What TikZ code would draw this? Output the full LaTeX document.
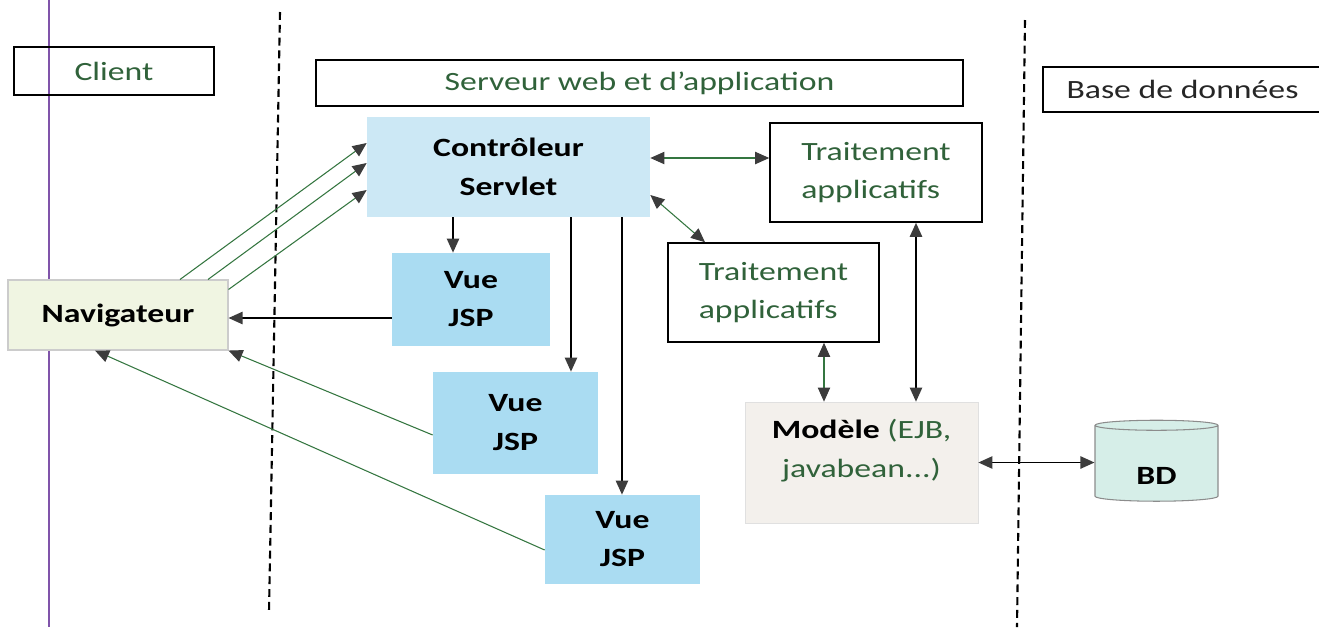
\documentclass[tikz,border=0pt]{standalone}
\usepackage{fontspec}
\setmainfont{Carlito}[FakeStretch=1.28]
\usetikzlibrary{arrows.meta,shapes.geometric}
\definecolor{txtgreen}{RGB}{48,98,58}
\definecolor{linegreen}{RGB}{52,118,64}
\definecolor{tipgrey}{RGB}{60,60,60}
\definecolor{vueblue}{RGB}{170,220,242}
\definecolor{vuelight}{RGB}{214,237,248}
\definecolor{ctrlblue}{RGB}{204,232,245}
\definecolor{navfill}{RGB}{240,245,226}
\definecolor{modfill}{RGB}{243,240,236}
\definecolor{bdfill}{RGB}{214,238,232}
\definecolor{purpleline}{RGB}{128,84,170}
\begin{document}
\begin{tikzpicture}[x=0.02cm, y=-0.02cm,
	every node/.style={font=\fontsize{15}{22}\selectfont, align=center, inner sep=0pt},
	bx/.style={draw=black, line width=0.9pt, text=txtgreen},
	bold/.style={font=\fontsize{15}{22}\selectfont\bfseries},
	vue/.style={bold, left color=vueblue, middle color=vuelight, right color=vueblue},
	sep/.style={line width=1.2pt, dash pattern=on 4.5pt off 2.8pt},
	gr/.style={draw=linegreen, line width=0.6pt, -{Triangle[length=8pt,width=7pt,color=tipgrey]}},
	grb/.style={gr, {Triangle[length=8pt,width=7pt,color=tipgrey]}-{Triangle[length=8pt,width=7pt,color=tipgrey]}},
	bk/.style={draw=black, line width=0.9pt, -{Triangle[length=8pt,width=7pt,color=tipgrey]}},
	bkb/.style={bk, {Triangle[length=8pt,width=7pt,color=tipgrey]}-{Triangle[length=8pt,width=7pt,color=tipgrey]}}]
	\path[use as bounding box, fill=white] (0,0) rectangle (1319,627);
	\clip (0,0) rectangle (1319,627);

	\coordinate (p1) at (49,0);
	\coordinate (p2) at (49,627);
	\coordinate (d1t) at (280,12);
	\coordinate (d1b) at (269,612);
	\coordinate (d2t) at (1025,20);
	\coordinate (d2b) at (1017,627);
	\draw[purpleline, line width=0.7pt] (p1) -- (p2);
	\draw[sep] (d1t) -- (d1b);
	\draw[sep] (d2t) -- (d2b);

	\node[bx, minimum width=4cm, minimum height=0.96cm] (client) at (114,71) {Client};
	\node[bx, minimum width=12.94cm, minimum height=0.92cm] (serveur) at (639.5,83) {Serveur web et d'application};
	\node[bx, text=black!85, minimum width=5.58cm, minimum height=0.9cm] (base) at (1182.5,89.5) {Base de données};

	\node[bold, fill=ctrlblue, minimum width=5.66cm, minimum height=2cm] (ctrl) at (508.5,167) {Contrôleur\\Servlet};
	\node[bx, align=left, minimum width=4.24cm, minimum height=1.98cm] (trait1) at (876,172.5) {Traitement\\applicatifs};
	\node[bx, align=left, minimum width=4.22cm, minimum height=1.98cm] (trait2) at (773.5,292.5) {Traitement\\applicatifs};
	\node[bold, fill=navfill, draw=black!20, line width=0.6pt, minimum width=4.4cm, minimum height=1.4cm] (nav) at (118,315) {Navigateur};
	\node[vue, minimum width=3.16cm, minimum height=1.84cm] (vue1) at (471,299) {Vue\\JSP};
	\node[vue, minimum width=3.3cm, minimum height=2.02cm] (vue2) at (515.5,422.5) {Vue\\JSP};
	\node[vue, minimum width=3.1cm, minimum height=1.76cm] (vue3) at (622.5,539) {Vue\\JSP};
	\node[fill=modfill, draw=black!12, text depth=16pt, minimum width=4.66cm, minimum height=2.42cm] (model) at (861.5,462.5) {\textbf{Modèle} {\color{txtgreen}(EJB,}\\{\color{txtgreen}javabean...)}};
	\node[bold, cylinder, shape border rotate=90, aspect=0.25, fill=bdfill, draw=black!45, line width=0.6pt, text height=24pt, text depth=0pt, minimum width=2.46cm, minimum height=1.62cm] (bd) at (1156.5,463.5) {BD};

	\draw[gr] ([xshift=1.24cm]nav.north) -- ([yshift=0.48cm]ctrl.west);
	\draw[gr] ([xshift=1.8cm]nav.north) -- ([yshift=0.08cm]ctrl.west);
	\draw[gr] ([yshift=-0.2cm]nav.north east) -- ([yshift=-0.46cm]ctrl.west);
	\draw[bk] ([yshift=-0.38cm]vue1.west) -- ([yshift=-0.38cm]vue1.west -| nav.east);
	\draw[gr] ([yshift=-0.25cm]vue2.west) -- (nav.south east);
	\draw[gr] ([yshift=-0.22cm]vue3.west) -- ([xshift=-0.46cm]nav.south);

	\draw[bk] ([xshift=-1.11cm]ctrl.south) -- ([xshift=-1.11cm]ctrl.south |- vue1.north);
	\draw[bk] ([xshift=1.25cm]ctrl.south) -- ([xshift=1.25cm]ctrl.south |- vue2.north);
	\draw[bk] ([xshift=2.27cm]ctrl.south) -- ([xshift=2.27cm]ctrl.south |- vue3.north);

	\draw[grb] ([yshift=0.18cm]ctrl.east) -- ([yshift=0.18cm]ctrl.east -| trait1.west);
	\draw[grb] ([yshift=-0.56cm]ctrl.east) -- ([xshift=-1.37cm]trait2.north);
	\draw[grb] ([xshift=1.01cm]trait2.south) -- ([xshift=1.01cm]trait2.south |- model.north);
	\draw[bkb] ([xshift=0.8cm]trait1.south) -- ([xshift=0.8cm]trait1.south |- model.north);
	\draw[bkb] (model.east) -- (model.east -| bd.west);
\end{tikzpicture}
\end{document}
